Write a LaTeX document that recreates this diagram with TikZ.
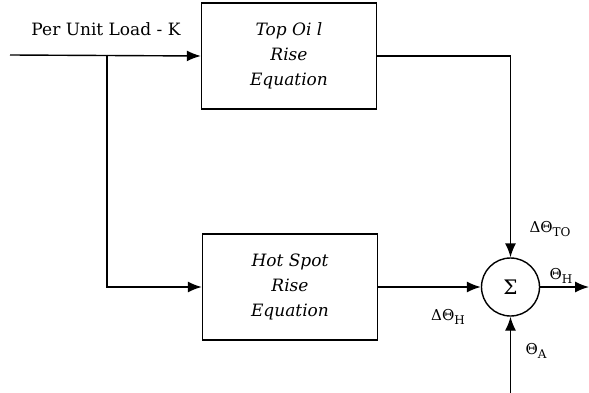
\documentclass[tikz,border=0pt]{standalone}
\usepackage{fontspec}
\setmainfont{DejaVu Serif}
\usetikzlibrary{arrows.meta}

\newcommand{\lowsub}[1]{{\fontsize{12}{12}\selectfont\raisebox{-3.5pt}{#1}}}

\begin{document}
\begin{tikzpicture}[x=1pt,y=-1pt,line width=1.4pt,
		arr/.style={-{Latex[length=14pt,width=11pt]}},
		block/.style={draw,minimum width=175pt,minimum height=106pt,inner sep=0pt,
			align=center,font=\fontsize{17}{25}\selectfont\itshape},
		lbl/.style={font=\fontsize{15}{16}\selectfont,inner sep=0pt}]
				% keret
				\useasboundingbox (0,0) rectangle (589,393);
				
				% blokkok
				\node[block] (topoil) at (289,56) {Top Oi l\\Rise\\Equation};
				\node[block] (hotspot) at (290,287) {Hot Spot\\Rise\\Equation};
				\node[draw,circle,minimum size=58pt,inner sep=0pt,font=\fontsize{20}{20}\selectfont] (sum) at (510.5,287) {Σ};
				
				% pontok
				\coordinate (load) at (10,55);
				\coordinate (split) at (107,55);
				\coordinate (out) at (589,287);
				\coordinate (amb) at (510.5,393);
				
				% feliratok
				\node[font=\fontsize{17}{20}\selectfont,inner sep=0pt] (loadlbl) at (106,29) {Per Unit Load - K};
				\node[lbl] (dto) at (550,229) {ΔΘ\lowsub{TO}};
				\node[lbl] (th) at (561,276) {Θ\lowsub{H}};
				\node[lbl] (dth) at (448,317) {ΔΘ\lowsub{H}};
				\node[lbl] (ta) at (536,351) {Θ\lowsub{A}};
				
				% nyilak
				\draw[arr] (load) -- (topoil.west);
				\draw[arr] (split) |- (hotspot.west);
				\draw[arr] (topoil.east) -| (sum.north);
				\draw[arr] (hotspot.east) -- (sum.west);
				\draw[arr] (sum.east) -- (out);
				\draw[arr] (amb) -- (sum.south);
				
			\end{tikzpicture}
\end{document}
